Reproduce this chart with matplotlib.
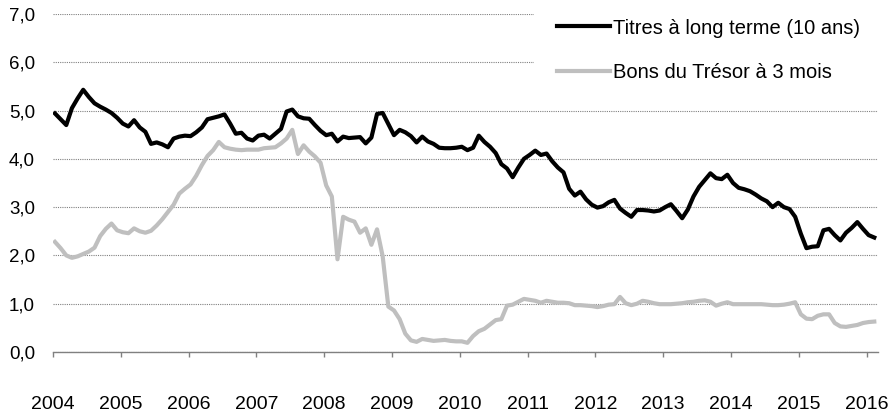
import numpy as np
import matplotlib.pyplot as plt

# ==========================================
# Données mensuelles, janv. 2004 - févr. 2016
# ==========================================
annees = list(range(2004, 2017))

titres_10_ans = [
    4.94, 4.82, 4.70, 5.05, 5.25, 5.43, 5.28, 5.15, 5.08, 5.02, 4.95, 4.85,
    4.73, 4.67, 4.80, 4.65, 4.56, 4.31, 4.34, 4.30, 4.24, 4.42, 4.46, 4.48,
    4.47, 4.55, 4.65, 4.82, 4.85, 4.88, 4.92, 4.73, 4.52, 4.54, 4.42, 4.38,
    4.48, 4.50, 4.42, 4.52, 4.62, 4.98, 5.02, 4.88, 4.84, 4.83, 4.70, 4.58,
    4.49, 4.52, 4.36, 4.46, 4.43, 4.44, 4.45, 4.32, 4.44, 4.93, 4.95, 4.72,
    4.49, 4.60, 4.55, 4.47, 4.34, 4.46, 4.36, 4.31, 4.23, 4.22, 4.22, 4.23,
    4.25, 4.18, 4.23, 4.48, 4.35, 4.25, 4.12, 3.89, 3.80, 3.62, 3.82, 4.00,
    4.08, 4.17, 4.08, 4.11, 3.95, 3.82, 3.72, 3.38, 3.24, 3.32, 3.16, 3.05,
    2.99, 3.02, 3.10, 3.15, 2.97, 2.88, 2.80, 2.94, 2.94, 2.93, 2.91, 2.93,
    3.00, 3.06, 2.92, 2.77, 2.95, 3.22, 3.42, 3.56, 3.70, 3.60, 3.58, 3.67,
    3.50, 3.40, 3.37, 3.33, 3.26, 3.18, 3.12, 3.00, 3.09, 3.00, 2.96, 2.80,
    2.45, 2.15, 2.18, 2.19, 2.52, 2.55, 2.42, 2.31, 2.47, 2.57, 2.69, 2.55,
    2.42, 2.37,
]

bons_3_mois = [
    2.28, 2.15, 2.00, 1.95, 1.98, 2.03, 2.08, 2.16, 2.40, 2.55, 2.66, 2.52,
    2.48, 2.46, 2.56, 2.50, 2.47, 2.51, 2.62, 2.75, 2.90, 3.05, 3.28, 3.38,
    3.47, 3.65, 3.87, 4.06, 4.18, 4.35, 4.24, 4.21, 4.19, 4.18, 4.19, 4.19,
    4.19, 4.22, 4.23, 4.24, 4.32, 4.42, 4.60, 4.10, 4.28, 4.15, 4.05, 3.92,
    3.45, 3.22, 1.92, 2.80, 2.74, 2.70, 2.47, 2.56, 2.22, 2.54, 1.98, 0.94,
    0.86, 0.68, 0.38, 0.24, 0.21, 0.27, 0.25, 0.23, 0.24, 0.25, 0.23, 0.22,
    0.22, 0.19, 0.33, 0.43, 0.48, 0.57, 0.66, 0.68, 0.96, 0.98, 1.04, 1.10,
    1.08, 1.06, 1.02, 1.06, 1.04, 1.02, 1.02, 1.01, 0.97, 0.97, 0.96, 0.95,
    0.93, 0.95, 0.98, 0.99, 1.14, 1.01, 0.97, 1.00, 1.06, 1.04, 1.01, 0.99,
    0.99, 0.99, 1.00, 1.01, 1.03, 1.04, 1.06, 1.07, 1.04, 0.96, 1.00, 1.03,
    0.99, 0.99, 0.99, 0.99, 0.99, 0.99, 0.98, 0.97, 0.97, 0.98, 1.00, 1.03,
    0.78, 0.69, 0.68, 0.75, 0.78, 0.78, 0.60, 0.53, 0.52, 0.54, 0.56, 0.60,
    0.62, 0.63,
]

mois = np.arange(len(titres_10_ans))

# ==========================================
# Figure
# ==========================================
plt.rcParams['font.family'] = ['Liberation Sans', 'DejaVu Sans']

fig = plt.figure(figsize=(8.95, 4.17), dpi=100)
ax = fig.add_axes([0.0592, 0.1559, 0.9215, 0.8106])

ax.plot(mois, titres_10_ans, color='black', lw=3.0,
        solid_joinstyle='round', label='Titres à long terme (10 ans)', zorder=3)
ax.plot(mois, bons_3_mois, color='#bfbfbf', lw=3.0,
        solid_joinstyle='round', label='Bons du Trésor à 3 mois', zorder=2)

# décalage des points par rapport aux graduations annuelles
decalage = -0.35
ax.set_xlim(decalage, decalage + 145.96)
ax.set_ylim(0, 7)

ax.set_xticks([12 * k + decalage for k in range(len(annees))])
ax.set_xticklabels([str(a) for a in annees])
ax.set_yticks(range(0, 8))
ax.set_yticklabels([f"{v},0" for v in range(0, 8)])

# grille pointillée horizontale
ax.yaxis.grid(True, color='#808080', linestyle=(0, (1, 1)), lw=0.8)
ax.set_axisbelow(True)

for s in ['top', 'right', 'left']:
    ax.spines[s].set_visible(False)
ax.spines['bottom'].set_color('#808080')
ax.spines['bottom'].set_linewidth(1.0)

ax.tick_params(axis='x', direction='out', length=3.6, width=1.0,
               color='#808080', pad=28, labelsize=14)
ax.tick_params(axis='y', length=0, pad=13, labelsize=13.5)

leg = ax.legend(loc='upper right', bbox_to_anchor=(1.0064, 1.055),
                fontsize=14.5, frameon=True, fancybox=False,
                handlelength=2.6, handletextpad=0.15, labelspacing=1.27,
                borderpad=1.15, borderaxespad=0.0)
leg.get_frame().set_facecolor('white')
leg.get_frame().set_edgecolor('none')
leg.get_frame().set_alpha(1.0)
for line in leg.get_lines():
    line.set_linewidth(3.0)

plt.savefig('out.png', dpi=100)
